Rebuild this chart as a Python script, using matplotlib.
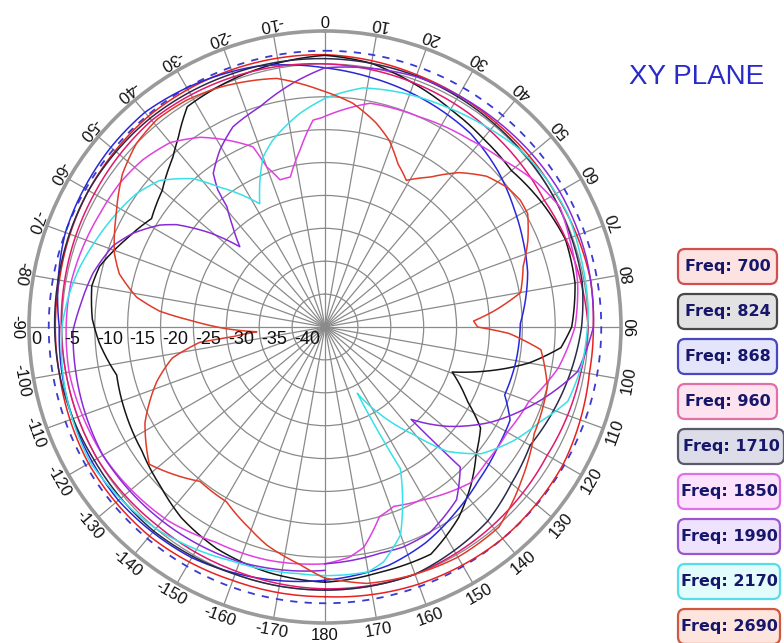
import numpy as np
import matplotlib
matplotlib.use("Agg")
import matplotlib.pyplot as plt
from matplotlib.patches import FancyBboxPatch

# ---------------- data (angle in degrees clockwise from top, gain in dB) ----------------
f700_ang = [-180, -160, -140, -120, -100, -80, -60, -40, -20, 0, 20, 40, 60, 80, 90, 100, 120, 140, 160, 180]
f700_db  = [-4.0, -4.0, -3.5, -3.5, -4.0, -4.0, -3.5, -3.2, -3.4, -3.6, -4.2, -4.5, -4.5, -4.0, -4.2, -4.2, -3.2, -3.0, -3.4, -4.0]

f824_ang = [-180, -167, -154, -143, -134, -124, -113, -103, -94, -88, -80, -75, -66, -58, -50, -42, -38, -32, -15, 0,
            10, 20, 30, 40, 50, 60, 70, 80, 90, 95, 100, 103, 109.5, 117.5, 123, 130, 137, 145, 155, 167, 180]
f824_db  = [-6.2, -6.7, -7.5, -8.7, -10.2, -11.4, -12.0, -12.5, -10.6, -9.6, -9.0, -9.5, -12.0, -13.9, -12.7, -10.4, -8.7, -5.5, -4.5, -3.7,
            -4.3, -5.6, -6.8, -7.6, -8.0, -7.0, -6.1, -6.4, -7.5, -9.0, -13.5, -16.9, -24.5, -20.6, -16.8, -15.0, -12.4, -9.6, -6.9, -6.8, -6.2]

f868_ang = [-180, -150, -130, -110, -90, -70, -50, -40, -30, -15, 0, 10, 22, 37, 48, 58, 66, 75, 89, 100, 110.7, 116.7, 125, 135, 145, 155, 165, 180]
f868_db  = [-6.5, -4.5, -4.0, -4.2, -4.6, -3.0, -2.5, -2.4, -3.0, -4.0, -5.6, -6.4, -7.2, -8.2, -9.6, -11.1, -12.1, -13.1, -15.3, -15.5, -15.8, -13.5, -13.0, -12.0, -10.5, -8.8, -7.5, -6.5]

f960_ang = [-180, -160, -140, -120, -100, -80, -60, -40, -20, 0, 20, 40, 60, 80, 90, 100, 120, 140, 160, 180]
f960_db  = [-5.2, -5.5, -5.5, -5.0, -5.0, -4.8, -4.5, -4.0, -4.5, -5.0, -5.5, -6.0, -6.5, -5.5, -5.0, -5.5, -6.0, -5.5, -5.0, -5.2]

f1710_ang = [-180, -160, -140, -120, -100, -80, -60, -40, -20, 0, 20, 40, 60, 80, 90, 100, 110, 120, 130, 140, 160, 180]
f1710_db  = [-5.0, -5.0, -4.5, -4.5, -4.0, -3.8, -3.5, -3.6, -4.0, -4.2, -4.4, -4.8, -5.0, -5.3, -6.0, -7.0, -8.0, -9.0, -8.0, -6.5, -5.0, -5.0]

f1850_ang = [-180, -166, -153, -141, -120, -100, -80, -63, -55, -47.5, -40, -33.3, -27.7, -21.8, -20, -17, -13, -8, -3.3, -1,
             11.4, 24, 37.8, 46.8, 55.8, 63, 70.5, 80, 90, 100, 110, 120, 130, 137, 150.5, 159, 164, 170, 174, 180]
f1850_db = [-9.0, -8.5, -8.3, -7.1, -6.0, -5.5, -5.8, -6.7, -6.9, -7.4, -8.4, -10.5, -12.9, -15.5, -19.1, -21.6, -21.6, -17.8, -13.5, -13.2,
            -10.3, -10.0, -9.0, -7.9, -6.0, -4.9, -5.5, -6.0, -7.0, -9.0, -12.0, -13.0, -13.0, -12.6, -14.8, -15.8, -15.0, -11.0, -9.8, -9.0]

f1990_ang = [-180, -160, -140, -120, -100, -90.7, -85.3, -76.9, -69, -64, -58.3, -55.4, -50.7, -48.4, -46.7, -42.6, -39.2, -38, -36, -30.7,
             -24.7, -16.5, -7.5, 0, 20, 40, 60, 75, 90, 100, 110, 120, 129, 137, 136, 142.7, 153, 160.5, 166.3, 180]
f1990_db = [-8.0, -7.0, -6.5, -6.0, -6.5, -6.7, -7.6, -8.8, -10.5, -12.5, -15.5, -17.6, -22.4, -25.1, -27.2, -24.3, -21.4, -18.5, -16.1, -13.7,
            -11.5, -10.1, -7.6, -5.6, -4.5, -4.2, -3.8, -3.9, -4.2, -6.0, -11.0, -16.0, -21.0, -25.8, -15.4, -12.0, -9.9, -9.5, -9.6, -9.0]

f2170_ang = [-180, -174, -158, -140, -120, -105, -90, -82.6, -76.5, -69, -61.5, -54.7, -48.5, -41.7, -37, -31, -27.9, -24.4, -20, -15.6,
             -6.7, 0.5, 9, 18.5, 29, 39, 48, 56.7, 65, 75, 86, 98, 107, 113.6, 121, 129, 135.5, 140.6, 147.7, 154, 152, 160, 166, 170, 180]
f2170_db = [-7.2, -7.3, -6.7, -5.0, -3.8, -4.3, -5.0, -5.8, -6.6, -7.8, -8.9, -9.9, -11.4, -14.8, -18.4, -22.0, -23.8, -21.0, -17.5, -15.5,
            -12.3, -10.1, -8.2, -7.5, -6.8, -5.9, -4.9, -4.5, -4.3, -4.7, -4.9, -5.5, -6.4, -9.2, -11.5, -14.4, -18.5, -23.9, -29.3, -33.8, -20.6, -11.4, -8.2, -7.2, -7.2]

f2690_ang = [-180, -174, -165, -159.5, -150.6, -141, -128, -118, -108, -101.5, -97, -96, -94, -91, -87.4, -84.5, -81, -75.5, -70.8, -61.5,
             -52.9, -45.8, -39, -31.4, -23.7, -11, -1, 7, 14, 19, 24, 29, 35, 41, 47, 52.6, 57, 60.8, 67, 73,
             80, 84.6, 87.7, 90, 92, 96, 105, 117, 128, 139, 150, 160, 170.7, 178, 180]
f2690_db = [-6.8, -8.7, -10.7, -12.3, -14.5, -14.8, -11.1, -14.0, -18.1, -21.3, -25.8, -30.9, -34.6, -30.0, -24.9, -19.7, -16.0, -12.7, -11.1, -8.9,
            -6.4, -5.0, -4.4, -4.6, -5.2, -6.5, -9.0, -10.7, -13.0, -15.0, -17.8, -19.5, -17.2, -13.9, -11.4, -10.1, -9.6, -9.7, -11.5, -13.5,
            -14.8, -19.2, -22.4, -21.8, -17.0, -12.0, -10.0, -9.3, -7.1, -4.7, -4.6, -5.0, -5.5, -6.6, -6.8]

freq_labels = ["Freq: 700", "Freq: 824", "Freq: 868", "Freq: 960", "Freq: 1710",
               "Freq: 1850", "Freq: 1990", "Freq: 2170", "Freq: 2690"]
line_colors = ["#e82020", "#151515", "#2828d8", "#e01870", "#2a2a4a",
               "#e040e0", "#8a2ad8", "#38e0e8", "#e03a28"]
box_edges = ["#d05050", "#484848", "#4848c0", "#e070a8", "#5a5a6a",
             "#e070e8", "#9a58d0", "#58dcec", "#d05840"]
box_fills = ["#fde2e2", "#e2e2e2", "#e4e4fa", "#fde2f0", "#dcdde8",
             "#fce2fc", "#eee2fc", "#e2fcfc", "#fde4dc"]

ref_level = -3.0
r_ticks = [-40, -35, -30, -25, -20, -15, -10, -5]
r_tick_labels = ["-40", "-35", "-30", "-25", "-20", "-15", "-10", "-5", "0"]
ang_ticks = list(range(-170, 190, 10))

series = [(f700_ang, f700_db), (f824_ang, f824_db), (f868_ang, f868_db), (f960_ang, f960_db),
          (f1710_ang, f1710_db), (f1850_ang, f1850_db), (f1990_ang, f1990_db),
          (f2170_ang, f2170_db), (f2690_ang, f2690_db)]

# ---------------- figure ----------------
W, H = 784, 643
fig = plt.figure(figsize=(W / 100, H / 100), dpi=100)
cx, cy, R = 325, 327, 296
ax = fig.add_axes([(cx - R) / W, 1 - (cy + R) / H, 2 * R / W, 2 * R / H], projection="polar")
ax.set_theta_zero_location("N")
ax.set_theta_direction(-1)
ax.set_ylim(-45, 0)
ax.set_rgrids(r_ticks, labels=[""] * len(r_ticks))
ax.set_thetagrids(np.arange(0, 360, 10), labels=[""] * 36)
ax.grid(True, color="#8a8a8a", lw=0.9)
ax.spines["polar"].set_color("#9a9a9a")
ax.spines["polar"].set_linewidth(2.6)
ax.tick_params(pad=0, length=0)

# reference -3 dB dashed circle
tt = np.linspace(0, 2 * np.pi, 721)
ax.plot(tt, np.full_like(tt, ref_level), color="#3a3ad0", lw=1.3, ls=(0, (4, 4)), zorder=3)

for (a, d), c in zip(series, line_colors):
    ln, = ax.plot(np.deg2rad(a), d, color=c, lw=1.1, zorder=4)
    # let the polar transform bend each segment along the polar scale
    ln._path._interpolation_steps = 24
    ln.recache_always()

# angular labels (tops toward centre)
for a in ang_ticks:
    ax.text(np.deg2rad(a), 1.85, str(a), rotation=180 - a, rotation_mode="anchor",
            ha="center", va="center", fontsize=12, family="Liberation Sans", color="#111111")

# radial labels along the left horizontal axis
for lbl in r_tick_labels:
    v = float(lbl)
    ax.annotate(lbl, xy=(np.deg2rad(-90), v), xytext=(1.5, -3), textcoords="offset points",
                ha="left", va="top", fontsize=13, family="Liberation Sans", color="#111111", zorder=5)

# title
fig.text(697 / W, 1 - 77 / H, "XY PLANE", ha="center", va="center", fontsize=20,
         family="Liberation Sans", color="#2a2ac8")

# legend boxes
box_w = [99, 99, 99, 99, 106, 102, 102, 102, 102]
for i, (lbl, ec, fc) in enumerate(zip(freq_labels, box_edges, box_fills)):
    top = 249 + 45 * i
    h = 35
    x0 = 678
    bw = box_w[i]
    p = FancyBboxPatch(((x0 + 4) / W, 1 - (top + h - 4) / H), (bw - 8) / W, (h - 8) / H,
                       boxstyle="round,pad=0,rounding_size=0.008", transform=fig.transFigure,
                       facecolor=fc, edgecolor=ec, lw=1.6, mutation_aspect=W / H)
    p.set_boxstyle("round", pad=4 / W, rounding_size=7 / W)
    fig.patches.append(p)
    fig.text((x0 + bw / 2) / W, 1 - (top + h / 2) / H, lbl, ha="center", va="center",
             fontsize=11.5, fontweight="bold", family="DejaVu Sans", color="#16166a")

fig.savefig("out.png", dpi=100)
